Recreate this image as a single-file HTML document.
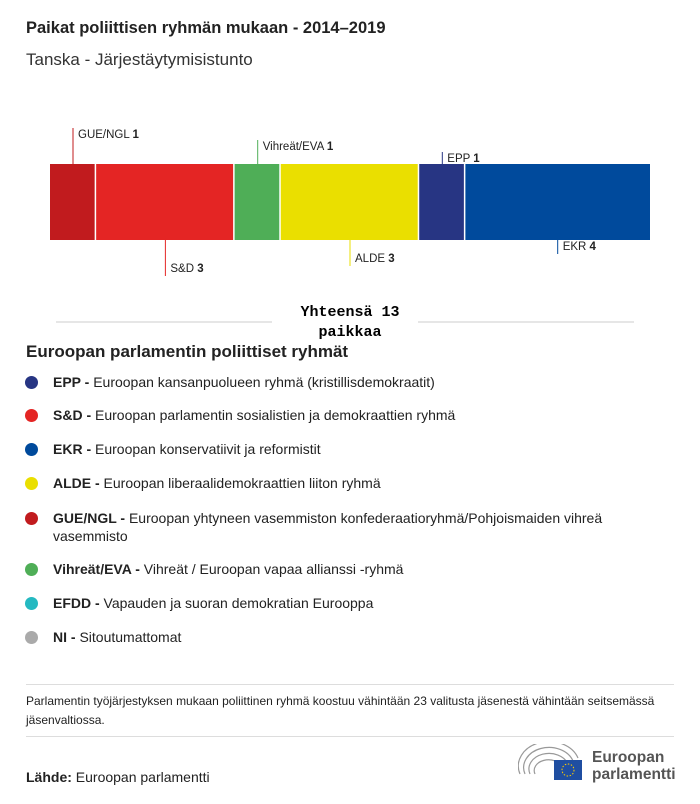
<!DOCTYPE html>
<html><head><meta charset="utf-8"><style>
body{margin:0;width:700px;height:804px;background:#fff;font-family:"Liberation Sans",sans-serif;color:#222;position:relative;overflow:hidden}
.a{position:absolute}
.t{font-weight:bold;font-size:16.5px;left:26px;top:19px}
.st{font-size:17px;left:26px;top:50px;color:#333}
.lg{left:26px;font-size:14px;white-space:nowrap}
.dot{position:absolute;left:-1px;width:13px;height:13px;border-radius:50%}
.lt{position:absolute;left:27px;top:0;line-height:18px}
</style></head><body>
<div class="a t">Paikat poliittisen ryhmän mukaan - 2014–2019</div>
<div class="a st">Tanska - Järjestäytymisistunto</div>
<svg class="a" style="left:0;top:0" width="700" height="340">
<g id="bars"></g><g id="labels"></g>
<line x1="56" y1="322" x2="272" y2="322" stroke="#ccc"/>
<line x1="418" y1="322" x2="634" y2="322" stroke="#ccc"/>
<text x="350" y="316" text-anchor="middle" font-family="Liberation Mono,monospace" font-weight="bold" font-size="15">Yhteensä 13</text>
<text x="350" y="336" text-anchor="middle" font-family="Liberation Mono,monospace" font-weight="bold" font-size="15">paikkaa</text>
</svg>
<div class="a" style="left:26px;top:342px;font-weight:bold;font-size:17px">Euroopan parlamentin poliittiset ryhmät</div>
<div id="legend"></div>
<div class="a" style="left:26px;top:684px;width:648px;border-top:1px solid #ddd"></div>
<div class="a" style="left:26px;top:692px;width:650px;font-size:12px;line-height:19px">Parlamentin työjärjestyksen mukaan poliittinen ryhmä koostuu vähintään 23 valitusta jäsenestä vähintään seitsemässä jäsenvaltiossa.</div>
<div class="a" style="left:26px;top:736px;width:648px;border-top:1px solid #ddd"></div>
<div class="a" style="left:26px;top:769px;font-size:14px"><b>Lähde:</b> Euroopan parlamentti</div>
<svg class="a" style="left:518px;top:744px" width="70" height="40">
<g fill="none" stroke="#999" stroke-width="1.2"><path d="M2 30 A30 24 0 0 1 60 14"/><path d="M7 30 A24 19 0 0 1 55 17"/><path d="M12 30 A18 14 0 0 1 50 20"/><path d="M17 30 A12 9 0 0 1 44 23"/></g>
<rect x="36" y="16" width="28" height="20" fill="#1f4ea1"/><circle cx="50" cy="26" r="6" fill="none" stroke="#fc0" stroke-dasharray="1.5 1.6"/>
</svg>
<div class="a" style="left:592px;top:749px;font-size:15.5px;font-weight:bold;color:#555;line-height:17px">Euroopan<br>parlamentti</div>
<script>
const groups=["GUE/NGL","S&D","Vihreät/EVA","ALDE","EPP","EKR"];
const seats=[1,3,1,3,1,4];
const colors=["#c11b1e","#e42524","#4fae57","#eadf00","#273583","#004a9c"];
const labelSide=["up","down","up","down","up","down"];
const labelOffset=[36,36,24,26,12,14];
const total=seats.reduce((a,b)=>a+b,0);
const x0=50,x1=650,yT=164,yB=240;
const sx=v=>x0+(x1-x0)*v/total;
const ns="http://www.w3.org/2000/svg";
const bars=document.getElementById('bars'),labs=document.getElementById('labels');
let cum=0;
groups.forEach((g,i)=>{
 const xa=sx(cum),xb=sx(cum+seats[i]);cum+=seats[i];
 const r=document.createElementNS(ns,'rect');
 r.setAttribute('x',xa);r.setAttribute('y',yT);r.setAttribute('width',xb-xa-(i<groups.length-1?1.5:0));r.setAttribute('height',yB-yT);r.setAttribute('fill',colors[i]);
 
 
 bars.appendChild(r);
 const lx=xa+(xb-xa)/2;
 const lxx=i===0?73:lx;
 const l=document.createElementNS(ns,'line');
 const y2=labelSide[i]=="up"?yT-labelOffset[i]:yB+labelOffset[i];
 l.setAttribute('x1',lxx);l.setAttribute('x2',lxx);l.setAttribute('y1',labelSide[i]=="up"?yT:yB);l.setAttribute('y2',y2);l.setAttribute('stroke',colors[i]);
 
 
 labs.appendChild(l);
 const t=document.createElementNS(ns,'text');
 t.setAttribute('x',lxx+5);t.setAttribute('y',labelSide[i]=="up"?y2+10:y2-4);t.setAttribute('font-size','11.5');t.setAttribute('fill','#222');
 t.innerHTML=g.replace('&','&amp;')+' <tspan font-weight="bold">'+seats[i]+'</tspan>';
 
 
 labs.appendChild(t);
});
const legAbbr=["EPP","S&D","EKR","ALDE","GUE/NGL","Vihreät/EVA","EFDD","NI"];
const legText=["Euroopan kansanpuolueen ryhmä (kristillisdemokraatit)","Euroopan parlamentin sosialistien ja demokraattien ryhmä","Euroopan konservatiivit ja reformistit","Euroopan liberaalidemokraattien liiton ryhmä","Euroopan yhtyneen vasemmiston konfederaatioryhmä/Pohjoismaiden vihreä<br>vasemmisto","Vihreät / Euroopan vapaa allianssi -ryhmä","Vapauden ja suoran demokratian Eurooppa","Sitoutumattomat"];
const legColors=["#273583","#e42524","#004a9c","#eadf00","#c11b1e","#4fae57","#24b9c1","#aaa"];
const legTop=[373,406,440,474,509,560,594,628];
const lg=document.getElementById('legend');
legAbbr.forEach((a,i)=>{
 const d=document.createElement('div');d.className='a lg';d.style.top=legTop[i]+'px';
 
 
 d.innerHTML='<span class="dot" style="top:3px;background:'+legColors[i]+'"></span><span class="lt"><b>'+a.replace('&','&amp;')+' -</b> '+legText[i]+'</span>';
 lg.appendChild(d);
});
</script>
</body></html>
